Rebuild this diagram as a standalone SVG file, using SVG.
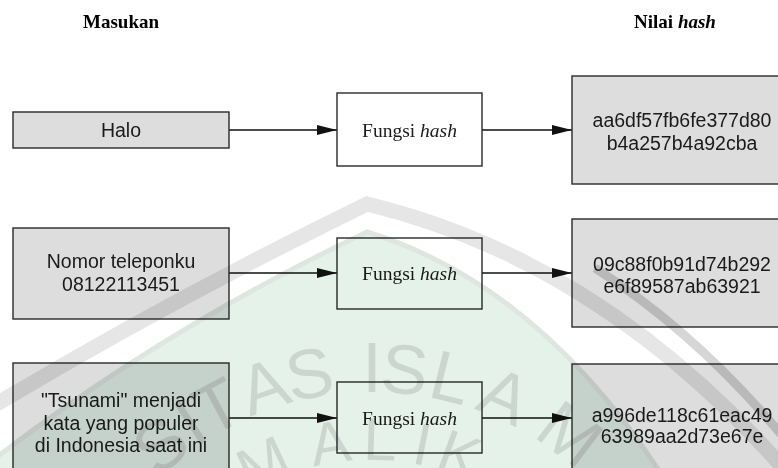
<svg xmlns="http://www.w3.org/2000/svg" width="778" height="468" viewBox="0 0 778 468">
  <defs>
    <style>
      .head { font-family: "Liberation Serif", "Times New Roman", serif; font-weight: bold; font-size: 19px; fill: #000; }
      .box-in, .box-out { fill: #dddddd; stroke: #2a2a2a; stroke-width: 1.4; }
      .box-fn { fill: #ffffff; stroke: #2a2a2a; stroke-width: 1.4; }
      .sans { font-family: "Liberation Sans", Arial, sans-serif; font-size: 19.5px; fill: #1a1a1a; text-anchor: middle; }
      .serif { font-family: "Liberation Serif", "Times New Roman", serif; font-size: 19.5px; fill: #1a1a1a; text-anchor: middle; }
      .edge { stroke: #111; stroke-width: 1.5; fill: none; marker-end: url(#arrow); }
      .wm { mix-blend-mode: multiply; }
      .wm-letter { font-family: "Liberation Sans", Arial, sans-serif; fill: #ccd6d0; text-anchor: middle; }
    </style>
    <marker id="arrow" viewBox="0 0 20 10" refX="20" refY="5" markerWidth="20" markerHeight="10" markerUnits="userSpaceOnUse" orient="auto">
      <path d="M0,0 L20,5 L0,10 Z" fill="#111"/>
    </marker>
  </defs>

  <rect width="778" height="468" fill="#ffffff"/>

  <!-- column headings -->
  <text class="head" x="121" y="28" text-anchor="middle">Masukan</text>
  <text class="head" x="675" y="28" text-anchor="middle">Nilai <tspan font-style="italic">hash</tspan></text>

  <!-- connectors -->
  <g id="connectors">
    <line class="edge" x1="229" y1="130" x2="337" y2="130"/>
    <line class="edge" x1="482" y1="130" x2="572" y2="130"/>
    <line class="edge" x1="229" y1="273" x2="337" y2="273"/>
    <line class="edge" x1="482" y1="273" x2="572" y2="273"/>
    <line class="edge" x1="229" y1="418" x2="337" y2="418"/>
    <line class="edge" x1="482" y1="418" x2="572" y2="418"/>
  </g>

  <!-- row 1 -->
  <g id="input-1">
    <rect class="box-in" x="13" y="112" width="216" height="36"/>
    <text class="sans" x="121" y="137">Halo</text>
  </g>
  <g id="hash-fn-1">
    <rect class="box-fn" x="337" y="93" width="145" height="73"/>
    <text class="serif" x="409.5" y="137">Fungsi <tspan font-style="italic">hash</tspan></text>
  </g>
  <g id="output-1">
    <rect class="box-out" x="572" y="76" width="220" height="108"/>
    <text class="sans" x="682" y="127">aa6df57fb6fe377d80</text>
    <text class="sans" x="682" y="150">b4a257b4a92cba</text>
  </g>

  <!-- row 2 -->
  <g id="input-2">
    <rect class="box-in" x="13" y="228" width="216" height="91"/>
    <text class="sans" x="121" y="268">Nomor teleponku</text>
    <text class="sans" x="121" y="291">08122113451</text>
  </g>
  <g id="hash-fn-2">
    <rect class="box-fn" x="337" y="238" width="145" height="71"/>
    <text class="serif" x="409.5" y="280">Fungsi <tspan font-style="italic">hash</tspan></text>
  </g>
  <g id="output-2">
    <rect class="box-out" x="572" y="219" width="220" height="108"/>
    <text class="sans" x="682" y="271">09c88f0b91d74b292</text>
    <text class="sans" x="682" y="293">e6f89587ab63921</text>
  </g>

  <!-- row 3 -->
  <g id="input-3">
    <rect class="box-in" x="13" y="363" width="216" height="110"/>
    <text class="sans" x="121" y="407">"Tsunami" menjadi</text>
    <text class="sans" x="121" y="430">kata yang populer</text>
    <text class="sans" x="121" y="452">di Indonesia saat ini</text>
  </g>
  <g id="hash-fn-3">
    <rect class="box-fn" x="337" y="382" width="145" height="71"/>
    <text class="serif" x="409.5" y="425">Fungsi <tspan font-style="italic">hash</tspan></text>
  </g>
  <g id="output-3">
    <rect class="box-out" x="572" y="364" width="220" height="108"/>
    <text class="sans" x="682" y="422">a996de118c61eac49</text>
    <text class="sans" x="682" y="443">63989aa2d73e67e</text>
  </g>

  <!-- faint emblem printed across the lower half of the page -->
  <g id="emblem" class="wm">
    <path d="M-20,470 Q160,330 367,232 Q540,285 665,480 Z" fill="#e4f2ea"/>
    <path d="M-10,408 Q170,300 367,204 Q600,260 785,470" fill="none" stroke="#e6e6e6" stroke-width="15"/>
    <path d="M595,268 Q700,335 790,445" fill="none" stroke="#d6d6d6" stroke-width="9"/>
    <path d="M-20,470 Q160,330 367,232 Q540,285 665,480" fill="none" stroke="#dfe6e2" stroke-width="5"/>
    <g transform="translate(372,697)">
      <text class="wm-letter" font-size="70" transform="rotate(-40) translate(0,-305)">S</text>
      <text class="wm-letter" font-size="70" transform="rotate(-33.5) translate(0,-305)">I</text>
      <text class="wm-letter" font-size="70" transform="rotate(-28) translate(0,-305)">T</text>
      <text class="wm-letter" font-size="70" transform="rotate(-19.2) translate(0,-305)">A</text>
      <text class="wm-letter" font-size="70" transform="rotate(-11) translate(0,-305)">S</text>
      <text class="wm-letter" font-size="70" transform="rotate(0) translate(0,-305)">I</text>
      <text class="wm-letter" font-size="70" transform="rotate(5.7) translate(0,-305)">S</text>
      <text class="wm-letter" font-size="70" transform="rotate(13.9) translate(0,-305)">L</text>
      <text class="wm-letter" font-size="70" transform="rotate(23.8) translate(0,-305)">A</text>
      <text class="wm-letter" font-size="70" transform="rotate(37) translate(0,-305)">M</text>
      <text class="wm-letter" font-size="60" transform="rotate(-25) translate(0,-237)">M</text>
      <text class="wm-letter" font-size="60" transform="rotate(-9.4) translate(0,-237)">A</text>
      <text class="wm-letter" font-size="60" transform="rotate(1.8) translate(0,-237)">L</text>
      <text class="wm-letter" font-size="60" transform="rotate(11.3) translate(0,-237)">I</text>
      <text class="wm-letter" font-size="60" transform="rotate(19.9) translate(0,-237)">K</text>
    </g>
  </g>
</svg>
